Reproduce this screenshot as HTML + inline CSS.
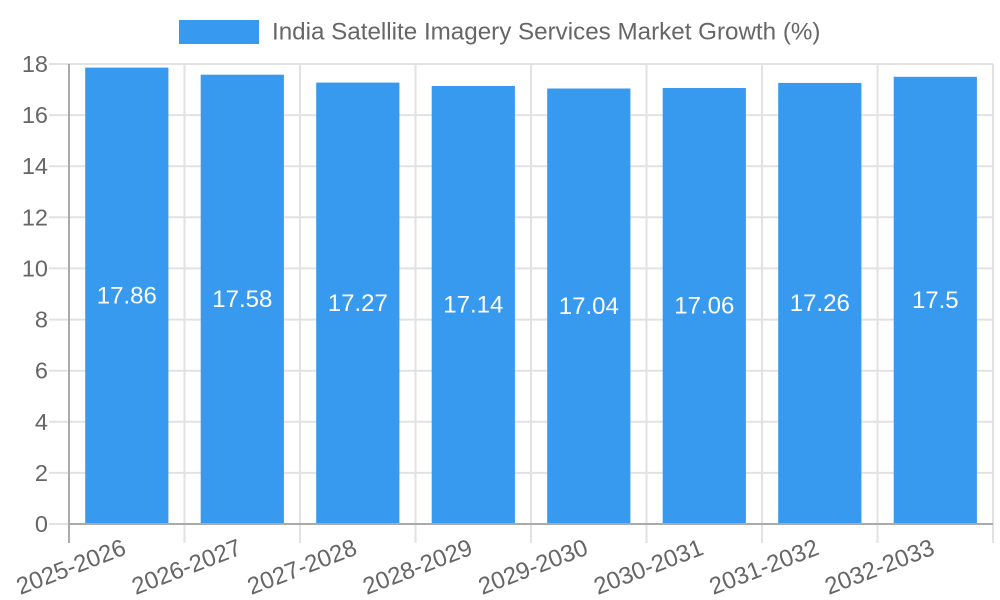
<!DOCTYPE html>
<html>
<head>
<meta charset="utf-8">
<style>
  html, body { margin:0; padding:0; background:#fff; }
  svg { display:block; font-family:"Liberation Sans", Arial, sans-serif; }
</style>
</head>
<body>
<svg width="1000" height="600" viewBox="0 0 1000 600" xmlns="http://www.w3.org/2000/svg">
  <rect width="1000" height="600" fill="#fff"/>
  <!-- legend -->
  <rect x="179" y="20" width="80" height="24" fill="#389AEF"/>
  <text x="272" y="32" font-size="24.2" fill="#666" dominant-baseline="central">India Satellite Imagery Services Market Growth (%)</text>

  <!-- horizontal gridlines -->
  <g stroke="#e2e2e2" stroke-width="2">
    <line x1="49" y1="472.9" x2="993" y2="472.9"/>
    <line x1="49" y1="421.8" x2="993" y2="421.8"/>
    <line x1="49" y1="370.7" x2="993" y2="370.7"/>
    <line x1="49" y1="319.6" x2="993" y2="319.6"/>
    <line x1="49" y1="268.4" x2="993" y2="268.4"/>
    <line x1="49" y1="217.3" x2="993" y2="217.3"/>
    <line x1="49" y1="166.2" x2="993" y2="166.2"/>
    <line x1="49" y1="115.1" x2="993" y2="115.1"/>
    <line x1="49" y1="64" x2="993" y2="64"/>
    <line x1="49" y1="524" x2="69" y2="524"/>
  </g>
  <!-- vertical gridlines -->
  <g stroke="#e2e2e2" stroke-width="2">
    <line x1="184.5" y1="64" x2="184.5" y2="543"/>
    <line x1="300" y1="64" x2="300" y2="543"/>
    <line x1="415.5" y1="64" x2="415.5" y2="543"/>
    <line x1="531" y1="64" x2="531" y2="543"/>
    <line x1="646.5" y1="64" x2="646.5" y2="543"/>
    <line x1="762" y1="64" x2="762" y2="543"/>
    <line x1="877.5" y1="64" x2="877.5" y2="543"/>
    <line x1="993" y1="64" x2="993" y2="543"/>
  </g>

  <!-- bars -->
  <g fill="#389AEF">
    <rect x="85.2" y="67.6" width="83.2" height="456.4"/>
    <rect x="200.7" y="74.7" width="83.2" height="449.3"/>
    <rect x="316.2" y="82.6" width="83.2" height="441.4"/>
    <rect x="431.7" y="86.0" width="83.2" height="438.0"/>
    <rect x="547.2" y="88.5" width="83.2" height="435.5"/>
    <rect x="662.7" y="88.0" width="83.2" height="436.0"/>
    <rect x="778.2" y="82.9" width="83.2" height="441.1"/>
    <rect x="893.7" y="76.8" width="83.2" height="447.2"/>
  </g>

  <!-- axes -->
  <g stroke="#aaa" stroke-width="2">
    <line x1="69" y1="64" x2="69" y2="543"/>
    <line x1="69" y1="524" x2="993" y2="524"/>
  </g>

  <!-- data labels -->
  <g font-size="24" fill="#fff" text-anchor="middle" dominant-baseline="central">
    <text x="126.8" y="295.8">17.86</text>
    <text x="242.3" y="299.4">17.58</text>
    <text x="357.8" y="303.3">17.27</text>
    <text x="473.3" y="305.0">17.14</text>
    <text x="588.8" y="306.3">17.04</text>
    <text x="704.3" y="306.0">17.06</text>
    <text x="819.8" y="303.5">17.26</text>
    <text x="935.3" y="300.4">17.5</text>
  </g>

  <!-- y tick labels -->
  <g font-size="23.5" fill="#666" text-anchor="end" dominant-baseline="central">
    <text x="48" y="524">0</text>
    <text x="48" y="472.9">2</text>
    <text x="48" y="421.8">4</text>
    <text x="48" y="370.7">6</text>
    <text x="48" y="319.6">8</text>
    <text x="48" y="268.4">10</text>
    <text x="48" y="217.3">12</text>
    <text x="48" y="166.2">14</text>
    <text x="48" y="115.1">16</text>
    <text x="48" y="64">18</text>
  </g>

  <!-- x tick labels -->
  <g font-size="24" fill="#666" text-anchor="end">
    <text transform="translate(121,537) rotate(-21)" y="18">2025-2026</text>
    <text transform="translate(236.5,537) rotate(-21)" y="18">2026-2027</text>
    <text transform="translate(352,537) rotate(-21)" y="18">2027-2028</text>
    <text transform="translate(467.5,537) rotate(-21)" y="18">2028-2029</text>
    <text transform="translate(583,537) rotate(-21)" y="18">2029-2030</text>
    <text transform="translate(698.5,537) rotate(-21)" y="18">2030-2031</text>
    <text transform="translate(814,537) rotate(-21)" y="18">2031-2032</text>
    <text transform="translate(929.5,537) rotate(-21)" y="18">2032-2033</text>
  </g>
</svg>
</body>
</html>
